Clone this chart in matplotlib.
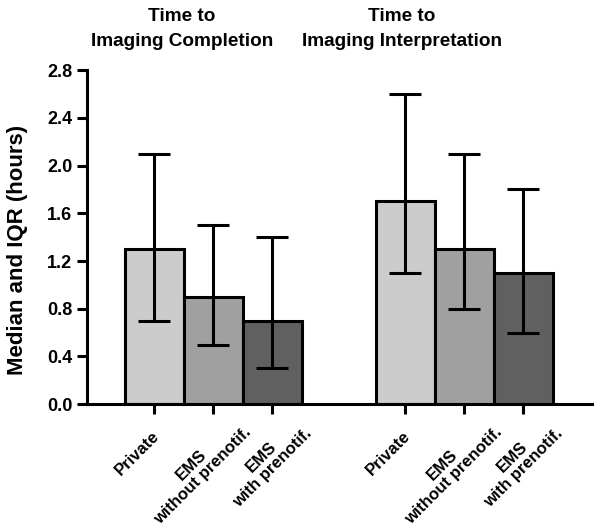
import matplotlib.pyplot as plt

groups = ["Time to\nImaging Completion", "Time to\nImaging Interpretation"]
categories = ["Private", "EMS\nwithout prenotif.", "EMS\nwith prenotif."]
medians = [[1.3, 0.9, 0.7], [1.7, 1.3, 1.1]]
q1 = [[0.7, 0.5, 0.3], [1.1, 0.8, 0.6]]
q3 = [[2.1, 1.5, 1.4], [2.6, 2.1, 1.8]]
yticks = [0.0, 0.4, 0.8, 1.2, 1.6, 2.0, 2.4, 2.8]

colors = ["#cccccc", "#a0a0a0", "#606060"]
offsets = [0.0, 4.25]
# label centre offsets from each tick, in points (prism-like placement)
label_off = [(-12, -35), (-11.5, -47.5), (-3.6, -41.8)]
title_x = [0.303, 0.670]

plt.rcParams['font.family'] = ['Liberation Sans', 'DejaVu Sans']
plt.rcParams['font.weight'] = 'bold'

fig = plt.figure(figsize=(6, 5.27), dpi=100)
ax = fig.add_axes([0.145, 0.233, 0.842, 0.634])

xs_all = []
for g in range(2):
    xs = [offsets[g] + i for i in range(3)]
    lo = [m - a for m, a in zip(medians[g], q1[g])]
    hi = [b - m for m, b in zip(medians[g], q3[g])]
    ax.bar(xs, medians[g], width=1.0, color=colors, edgecolor="black",
           linewidth=2.2, zorder=2)
    ax.errorbar(xs, medians[g], yerr=[lo, hi], fmt="none", ecolor="black",
                elinewidth=2.2, capsize=11.5, capthick=2.2, zorder=3)
    fig.text(title_x[g], 0.945, groups[g], ha="center", va="center",
             fontsize=13.7, fontweight="bold", linespacing=1.55)
    for i, x in enumerate(xs):
        ax.annotate(categories[i], xy=(x, 0), xycoords="data",
                    xytext=label_off[i], textcoords="offset points",
                    ha="center", va="center", rotation=45,
                    multialignment="center", fontsize=12,
                    fontweight="bold", linespacing=1.05,
                    annotation_clip=False)
    xs_all += xs

ax.set_xlim(-1.14, 7.42)
ax.set_ylim(0, 2.8)
ax.set_yticks(yticks)
ax.set_yticklabels([f"{t:.1f}" for t in yticks], fontsize=13, fontweight="bold")
ax.set_xticks(xs_all)
ax.set_xticklabels([])
ax.set_ylabel("Median and IQR (hours)", fontsize=16, fontweight="bold")
ax.yaxis.set_label_coords(-0.117, 0.461)
ax.tick_params(axis="both", width=2.2, length=7, direction="out", pad=3.5)
for s in ["top", "right"]:
    ax.spines[s].set_visible(False)
for s in ["left", "bottom"]:
    ax.spines[s].set_linewidth(2.2)

fig.savefig("out.png", dpi=100)
